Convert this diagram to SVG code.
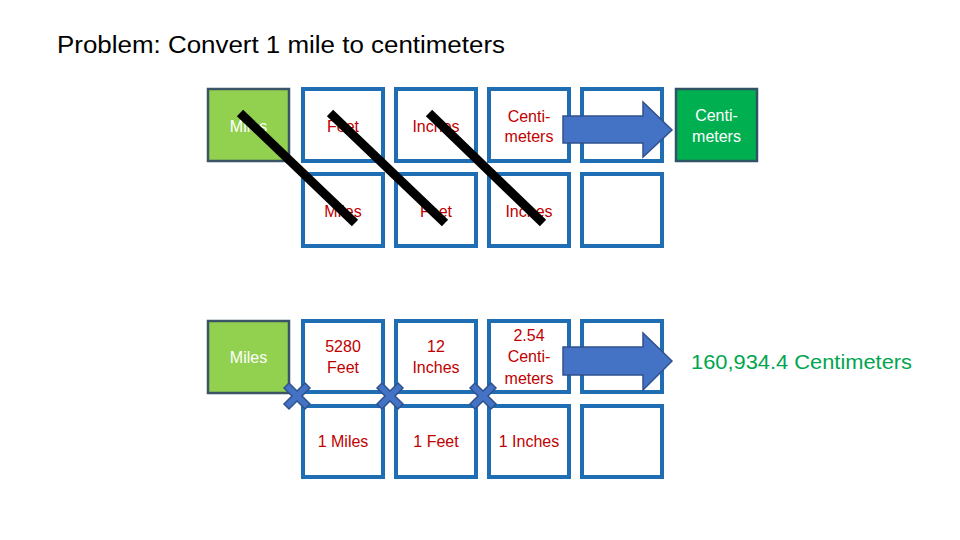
<svg xmlns="http://www.w3.org/2000/svg" xmlns:xlink="http://www.w3.org/1999/xlink" width="960" height="540" viewBox="0 0 960 540">
<defs>
<style>
.cell{fill:#ffffff;stroke:#1f6eb4;stroke-width:4}
.gbox{fill:#92d050;stroke:#3a5566;stroke-width:2.5}
.dbox{fill:#00b050;stroke:#2f5466;stroke-width:2.5}
.t{font-family:"Liberation Sans",Arial,sans-serif;font-size:16px;text-anchor:middle}
.red{fill:#c00000}
.wht{fill:#ffffff}
.arrow{fill:#4472c4;stroke:#2f528f;stroke-width:1.5}
.slash{stroke:#000000;stroke-width:9}
.cross{fill:#4472c4;stroke:#2f528f;stroke-width:1.5}
</style>
<polygon id="x" points="-13,-8 -8,-13 0,-5 8,-13 13,-8 5,0 13,8 8,13 0,5 -8,13 -13,8 -5,0"/>
</defs>
<rect width="960" height="540" fill="#ffffff"/>
<text x="57" y="53" font-family="Liberation Sans, Arial, sans-serif" font-size="23" fill="#000000" textLength="448" lengthAdjust="spacingAndGlyphs">Problem: Convert 1 mile to centimeters</text>

<g id="miles-top"><rect class="gbox" x="208" y="89" width="81" height="72"/><text class="t wht" x="248.5" y="132">Miles</text></g>
<g id="r1c1"><rect class="cell" x="303" y="89" width="80" height="72"/><text class="t red" x="343" y="132">Feet</text></g>
<g id="r1c2"><rect class="cell" x="396" y="89" width="80" height="72"/><text class="t red" x="436" y="132">Inches</text></g>
<g id="r1c3"><rect class="cell" x="489" y="89" width="80" height="72"/><text class="t red" x="529" y="122">Centi-</text><text class="t red" x="529" y="142">meters</text></g>
<g id="r1c4"><rect class="cell" x="582" y="89" width="80" height="72"/></g>
<g id="cm-top"><rect class="dbox" x="676" y="89" width="81" height="72"/><text class="t wht" x="716.5" y="121">Centi-</text><text class="t wht" x="716.5" y="142">meters</text></g>

<g id="r2c1"><rect class="cell" x="303" y="174" width="80" height="72"/><text class="t red" x="343" y="217">Miles</text></g>
<g id="r2c2"><rect class="cell" x="396" y="174" width="80" height="72"/><text class="t red" x="436" y="217">Feet</text></g>
<g id="r2c3"><rect class="cell" x="489" y="174" width="80" height="72"/><text class="t red" x="529" y="217">Inches</text></g>
<g id="r2c4"><rect class="cell" x="582" y="174" width="80" height="72"/></g>

<g id="miles-bottom"><rect class="gbox" x="208" y="321" width="81" height="72"/><text class="t wht" x="248.5" y="363">Miles</text></g>
<g id="r3c1"><rect class="cell" x="303" y="321" width="80" height="71"/><text class="t red" x="343" y="352">5280</text><text class="t red" x="343" y="373">Feet</text></g>
<g id="r3c2"><rect class="cell" x="396" y="321" width="80" height="71"/><text class="t red" x="436" y="352">12</text><text class="t red" x="436" y="373">Inches</text></g>
<g id="r3c3"><rect class="cell" x="489" y="321" width="80" height="71"/><text class="t red" x="529" y="341">2.54</text><text class="t red" x="529" y="362">Centi-</text><text class="t red" x="529" y="384">meters</text></g>
<g id="r3c4"><rect class="cell" x="582" y="321" width="80" height="71"/></g>

<g id="r4c1"><rect class="cell" x="303" y="406" width="80" height="71"/><text class="t red" x="343" y="447">1 Miles</text></g>
<g id="r4c2"><rect class="cell" x="396" y="406" width="80" height="71"/><text class="t red" x="436" y="447">1 Feet</text></g>
<g id="r4c3"><rect class="cell" x="489" y="406" width="80" height="71"/><text class="t red" x="529" y="447">1 Inches</text></g>
<g id="r4c4"><rect class="cell" x="582" y="406" width="80" height="71"/></g>

<g id="result"><text x="691" y="369" font-family="Liberation Sans, Arial, sans-serif" font-size="20" fill="#00a550" textLength="221" lengthAdjust="spacingAndGlyphs">160,934.4 Centimeters</text></g>

<g id="connectors">
<polygon class="arrow" points="563,116 643,116 643,102 672,130 643,157 643,143 563,143"/>
<polygon class="arrow" points="563,347 643,347 643,333 672,361 643,390 643,375 563,375"/>
<line class="slash" x1="240" y1="113" x2="355" y2="223"/>
<line class="slash" x1="330" y1="113" x2="445" y2="223"/>
<line class="slash" x1="429" y1="113" x2="543" y2="223"/>
<use xlink:href="#x" class="cross" x="297" y="396"/>
<use xlink:href="#x" class="cross" x="390" y="396"/>
<use xlink:href="#x" class="cross" x="483" y="396"/>
</g>
</svg>
